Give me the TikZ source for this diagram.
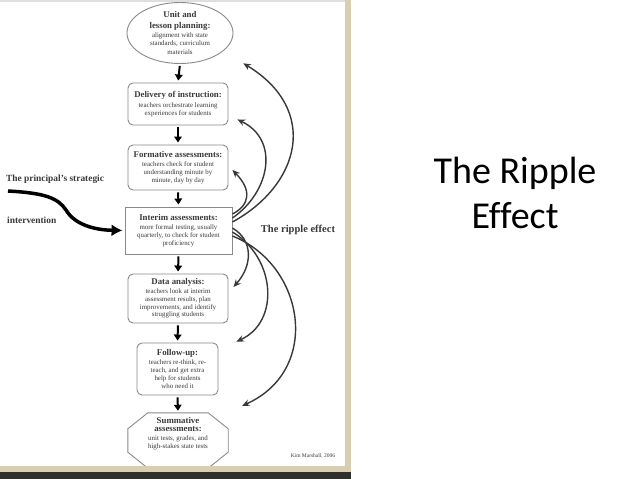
\documentclass[tikz,border=0pt]{standalone}
\usepackage{fontspec}
\setmainfont{Liberation Serif}
\newfontfamily\slidetitlefont[Ligatures=NoCommon]{Carlito}
\usetikzlibrary{arrows.meta,calc,shapes.geometric}
\definecolor{txt}{HTML}{3A3A3A}
\definecolor{boxgray}{HTML}{8A8A8A}
\definecolor{ripplecol}{HTML}{383838}
\definecolor{beigeband}{HTML}{D9CEB2}
\definecolor{darkband}{HTML}{2F2F2B}
\newcommand\boxtitle[1]{{\fontsize{8.8}{9.5}\selectfont\bfseries #1}}
\begin{document}
\begin{tikzpicture}[x=1pt,y=-1pt,
  every node/.style={text=txt},
  bodyfont/.style={font=\fontsize{6.9}{7.8}\selectfont},
  box/.style={draw=boxgray, line width=0.9pt, rounded corners=5pt, inner sep=0pt, align=center, bodyfont},
  flow/.style={-{Triangle[length=6pt,width=7.5pt]}, line width=2pt, black, shorten <=2pt, shorten >=2pt},
  ripple/.style={-{Stealth[length=7.5pt,width=6.5pt]}, line width=1.4pt, ripplecol},
  labelbold/.style={font=\fontsize{9.4}{11}\selectfont\bfseries, inner sep=0pt},
]
\useasboundingbox (0,0) rectangle (638,479);
\fill[white] (0,0) rectangle (638,479);

% flow nodes
\node[ellipse, draw=boxgray, line width=0.9pt, minimum width=106pt, minimum height=61pt, inner sep=0pt, align=center, font=\fontsize{6.9}{8.6}\selectfont] (ell) at (180,33)
  {\boxtitle{Unit and}\\[2pt] \boxtitle{lesson planning:}\\[0.5pt] alignment with state\\ standards, curriculum\\ materials};
\node[box, minimum width=100pt, minimum height=42pt] (deliv) at (178,104)
  {\boxtitle{Delivery of instruction:}\\[2pt] teachers orchestrate learning\\ experiences for students};
\node[box, minimum width=100pt, minimum height=45pt] (form) at (178,167.5)
  {\boxtitle{Formative assessments:}\\[1pt] teachers check for student\\ understanding minute by\\ minute, day by day};
\node[box, rounded corners=0pt, minimum width=107pt, minimum height=47pt] (inter) at (178.5,230.5)
  {\boxtitle{Interim assessments:}\\[1pt] more formal testing, usually\\ quarterly, to check for student\\ proficiency};
\node[box, minimum width=100pt, minimum height=49pt] (data) at (178,298.5)
  {\boxtitle{Data analysis:}\\[1pt] teachers look at interim\\ assessment results, plan\\ improvements, and identify\\ struggling students};
\node[box, minimum width=81pt, minimum height=52pt] (follow) at (177.5,369)
  {\boxtitle{Follow-up:}\\[1pt] teachers re-think, re-\\ teach, and get extra\\ help for students\\ who need it};
\node[minimum width=100pt, minimum height=55pt, inner sep=0pt] (summ) at (178,440.5) {};
\draw[boxgray, line width=0.9pt]
  ($(summ.north west)+(20,0)$) -- ($(summ.north east)+(-20,0)$) -- ($(summ.north east)+(0,16)$)
  -- ($(summ.south east)+(0,-16)$) -- ($(summ.south east)+(-20,0)$) -- ($(summ.south west)+(20,0)$)
  -- ($(summ.south west)+(0,-16)$) -- ($(summ.north west)+(0,16)$) -- cycle;
\node[align=center, bodyfont, inner sep=0pt] (summtxt) at ($(summ.center)+(0,-7)$)
  {\boxtitle{Summative}\\[1pt] \boxtitle{assessments:}\\[1pt] unit tests, grades, and\\ high-stakes state tests};

% flow arrows
\draw[flow] (ell.south) -- (deliv.north);
\draw[flow] (deliv.south) -- (form.north);
\draw[flow] (form.south) -- (inter.north);
\draw[flow] (inter.south) -- (data.north);
\draw[flow] (data.south) -- (follow.north);
\draw[flow] (follow.south) -- (summ.north);

% principal's intervention
\node[labelbold, anchor=west] (strat) at (6,179) {The principal’s strategic};
\node[labelbold, anchor=west] (interv) at (7,220) {intervention};
\coordinate (src) at (8,191);
\draw[line width=3.5pt, black, -{Latex[length=11pt,width=12pt]}, shorten >=2pt]
  (src) .. controls (45,193) and (58,198) .. (66,210)
  .. controls (75,225) and (95,230) .. (inter.west);

% ripple arrows up
\draw[ripple] ($(inter.east)+(0,-16.5)$) .. controls (250,205) and (252,190) .. ($(form.east)+(4,2.5)$);
\draw[ripple] ($(inter.east)+(0,-12.5)$) .. controls (270,192) and (280,140) .. ($(deliv.south east)+(9,-6)$);
\draw[ripple] ($(inter.east)+(0,-8.5)$) .. controls (300,185) and (320,110) .. ($(ell.south east)+(25.5,8.4)$);
% ripple arrows down
\draw[ripple] ($(inter.east)+(0,-2.5)$) .. controls (253,240) and (253,265) .. ($(data.east)+(5,-11.5)$);
\draw[ripple] ($(inter.east)+(0,1.5)$) .. controls (276,258) and (280,322) .. ($(follow.north east)+(18,-1)$);
\draw[ripple] ($(inter.east)+(0,5.5)$) .. controls (305,265) and (322,370) .. ($(summ.north east)+(14,-7)$);

\node[font=\fontsize{10.5}{12}\selectfont\bfseries, inner sep=0pt] (rip) at (298,230) {The ripple effect};
\node[font=\fontsize{5.5}{6}\selectfont, inner sep=0pt] (cite) at (313,456) {Kim Marshall, 2006};

% slide frame
\fill[gray!25] (0,0) rectangle (351,2);
\fill[beigeband] (345,0) rectangle (351,472);
\fill[beigeband] (0,466) rectangle (351,472);
\fill[darkband] (0,472) rectangle (351,479);

% slide title
\node[font=\slidetitlefont\fontsize{38}{45}\selectfont, text=black, anchor=base, inner sep=0pt] (title1) at (515,183) {The Ripple};
\node[font=\slidetitlefont\fontsize{38}{45}\selectfont, text=black, anchor=base, inner sep=0pt] (title2) at (515,228) {Effect};
\end{tikzpicture}
\end{document}
